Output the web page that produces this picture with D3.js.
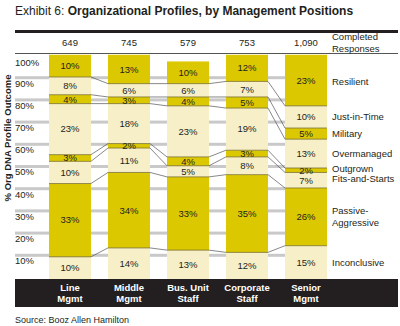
<!DOCTYPE html>
<html><head><meta charset="utf-8">
<script src="https://cdn.jsdelivr.net/npm/d3@7"></script>
<style>body{margin:0;background:#fff}svg{display:block;font-family:"Liberation Sans",Arial,sans-serif}</style>
</head><body><svg id="c" width="400" height="326"></svg>
<script>
const categories = [["Line","Mgmt"],["Middle","Mgmt"],["Bus. Unit","Staff"],["Corporate","Staff"],["Senior","Mgmt"]];
const responses = ["649","745","579","753","1,090"];
const profiles = ["Inconclusive","Passive-Aggressive","Fits-and-Starts","Outgrown","Overmanaged","Military","Just-in-Time","Resilient"];
const profileLabels = [["Inconclusive"],["Passive-","Aggressive"],["Fits-and-Starts"],["Outgrown"],["Overmanaged"],["Military"],["Just-in-Time"],["Resilient"]];
const lineMgmt  = [10,33,10,3,23,4,8,10];
const middleMgmt= [14,34,11,2,18,3,6,13];
const busUnit   = [13,33,5,4,23,4,6,10];
const corporate = [12,35,8,3,19,5,7,12];
const senior    = [15,26,7,2,13,5,10,23];
const series = [lineMgmt,middleMgmt,busUnit,corporate,senior];
const yTicks = [10,20,30,40,50,60,70,80,90,100];

const dark="#dcc800", pale="#f6efc8", ink="#231f20";
const svg=d3.select("#c");
const x=d3.scaleBand().domain(d3.range(categories.length)).range([40.5,335.5]).paddingInner(0.288).paddingOuter(0.144);
const y=d3.scaleLinear().domain([0,100]).range([279,57]);

// title
const t=svg.append("text").attr("x",15).attr("y",15).attr("font-size",12).attr("fill",ink);
t.append("tspan").text("Exhibit 6: ");
t.append("tspan").attr("font-weight","bold").text("Organizational Profiles, by Management Positions");

// rules
svg.append("rect").attr("x",15).attr("y",30).attr("width",383).attr("height",3).attr("fill",ink);
svg.append("rect").attr("x",15).attr("y",53).attr("width",383).attr("height",1).attr("fill","#555");

// gridlines
svg.append("g").selectAll("rect").data(yTicks.filter(d=>d<100)).join("rect")
  .attr("x",15).attr("width",312).attr("y",d=>y(d)-3).attr("height",3).attr("fill","#c9c9c9");
svg.append("g").selectAll("text").data(yTicks).join("text")
  .attr("x",15).attr("y",d=>y(d)+(d===100?6:4)).attr("dy","0.35em").attr("font-size",9.5).attr("fill",ink)
  .text(d=>d+"%");

// y title
svg.append("text").attr("transform","translate(11,138) rotate(-90)").attr("text-anchor","middle")
  .attr("font-size",9.5).attr("font-weight","bold").attr("fill",ink).text("% Org DNA Profile Outcome");

// stacks
const stacks=series.map(s=>{let c=0;return s.map(v=>{const o={y0:c,y1:c+v,v};c+=v;return o;});});
const bars=svg.append("g");
stacks.forEach((st,i)=>{
  const g=bars.append("g");
  g.selectAll("rect").data(st).join("rect")
   .attr("x",x(i)).attr("width",x.bandwidth()).attr("y",d=>y(d.y1)).attr("height",d=>y(d.y0)-y(d.y1))
   .attr("fill",(d,j)=>j%2?dark:pale);
  g.selectAll("line").data(st.slice(0,-1)).join("line")
   .attr("x1",x(i)).attr("x2",x(i)+x.bandwidth()).attr("y1",d=>y(d.y1)).attr("y2",d=>y(d.y1))
   .attr("stroke","#7a7030").attr("stroke-width",0.8);
  g.selectAll("text").data(st).join("text")
   .attr("x",x(i)+x.bandwidth()/2).attr("y",d=>y((d.y0+d.y1)/2)).attr("dy","0.35em")
   .attr("text-anchor","middle").attr("font-size",9.5).attr("fill",ink).text(d=>d.v+"%");
});
// connectors
for(let i=0;i<stacks.length-1;i++){
  svg.append("g").selectAll("line").data(d3.range(profiles.length-1)).join("line")
   .attr("x1",x(i)+x.bandwidth()).attr("x2",x(i+1))
   .attr("y1",j=>y(stacks[i][j].y1)).attr("y2",j=>y(stacks[i+1][j].y1))
   .attr("stroke","#555").attr("stroke-width",0.7);
}

// responses
svg.append("g").selectAll("text").data(responses).join("text")
  .attr("x",(d,i)=>x(i)+x.bandwidth()/2).attr("y",43).attr("dy","0.35em").attr("text-anchor","middle")
  .attr("font-size",9.5).attr("fill",ink).text(d=>d);
const cr=svg.append("text").attr("x",332).attr("font-size",9.5).attr("fill",ink);
cr.append("tspan").attr("x",332).attr("y",39.5).text("Completed");
cr.append("tspan").attr("x",332).attr("y",51.5).text("Responses");

// profile labels
const last=stacks[stacks.length-1];
const nudge=[0,0,-2,-2,0,0,0,1.5];
profileLabels.forEach((lab,j)=>{
  const cy=y((last[j].y0+last[j].y1)/2)+nudge[j];
  const tx=svg.append("text").attr("font-size",9.5).attr("fill",ink);
  lab.forEach((l,k)=>tx.append("tspan").attr("x",332).attr("y",cy+(k-(lab.length-1)/2)*11.5).attr("dy","0.35em").text(l));
});

// bottom band
svg.append("rect").attr("x",15).attr("y",279).attr("width",383).attr("height",28).attr("fill",ink);
categories.forEach((c,i)=>{
  const tx=svg.append("text").attr("text-anchor","middle").attr("font-size",9.5).attr("font-weight","bold").attr("fill","#fff");
  c.forEach((l,k)=>tx.append("tspan").attr("x",x(i)+x.bandwidth()/2).attr("y",287.5+k*10.8).attr("dy","0.35em").text(l));
});

svg.append("text").attr("x",15).attr("y",319.5).attr("dy","0.35em").attr("font-size",9).attr("fill",ink).text("Source: Booz Allen Hamilton");
</script></body></html>
